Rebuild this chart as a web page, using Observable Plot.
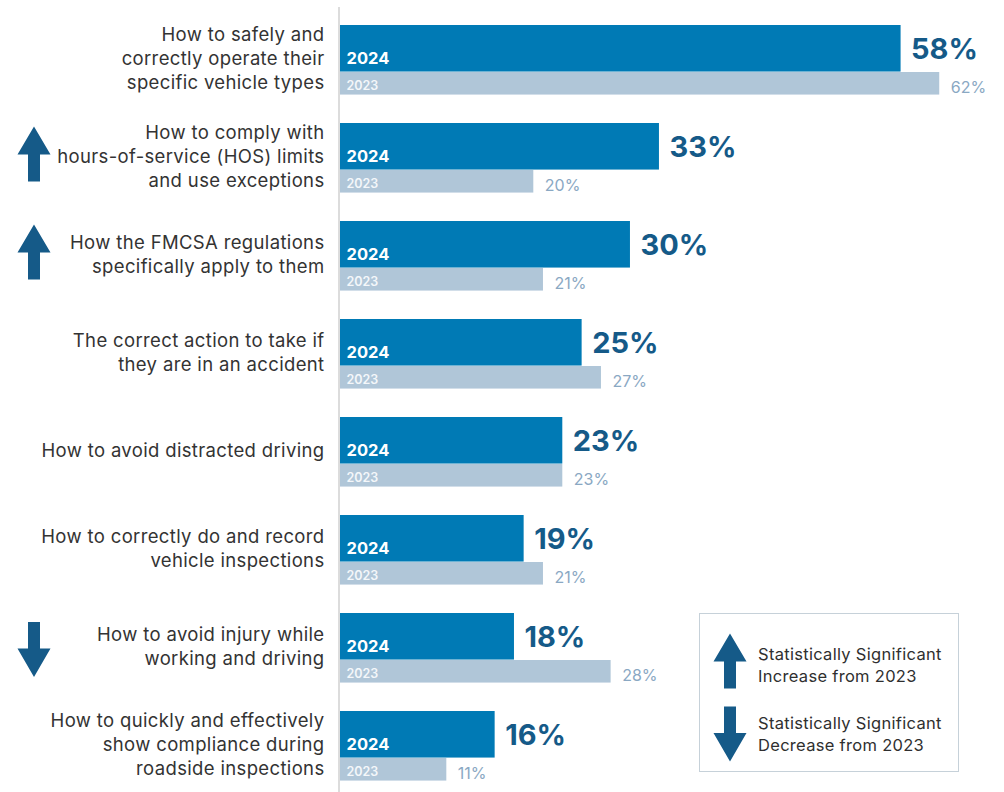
<!DOCTYPE html>
<html>
<head>
<meta charset="utf-8">
<script src="https://cdn.jsdelivr.net/npm/d3@7"></script>
<script src="https://cdn.jsdelivr.net/npm/@observablehq/plot@0.6"></script>
<style>
  html, body { margin: 0; padding: 0; background: #fff; }
  #wrap { position: relative; width: 1004px; height: 792px; font-family: Inter, "Noto Sans", sans-serif; }
  #legend { position: absolute; left: 699px; top: 613px; width: 258px; height: 157px; border: 1.5px solid #c6d1d9; background: #fff; }
  .lg-row { position: absolute; left: 0; width: 258px; }
  .lg-row svg { position: absolute; left: 13px; }
  .lg-row div { position: absolute; left: 58px; font-size: 16.5px; letter-spacing: 0.3px; line-height: 22px; color: #2f2f2f; white-space: nowrap; }
</style>
</head>
<body>
<div id="wrap"></div>
<script>
const categories = [
  "How to safely and\ncorrectly operate their\nspecific vehicle types",
  "How to comply with\nhours-of-service (HOS) limits\nand use exceptions",
  "How the FMCSA regulations\nspecifically apply to them",
  "The correct action to take if\nthey are in an accident",
  "How to avoid distracted driving",
  "How to correctly do and record\nvehicle inspections",
  "How to avoid injury while\nworking and driving",
  "How to quickly and effectively\nshow compliance during\nroadside inspections"
];
const values2024 = [58, 33, 30, 25, 23, 19, 18, 16];
const values2023 = [62, 20, 21, 27, 23, 21, 28, 11];
const significance = [null, "up", "up", null, null, null, "down", null];

const data = categories.map((c, i) => ({
  category: c, v2024: values2024[i], v2023: values2023[i], sig: significance[i]
}));

const upArrow = {
  draw(ctx) {
    ctx.moveTo(0, -27.5); ctx.lineTo(16.5, 0.5); ctx.lineTo(6, 0.5); ctx.lineTo(6, 27.5);
    ctx.lineTo(-6, 27.5); ctx.lineTo(-6, 0.5); ctx.lineTo(-16.5, 0.5); ctx.closePath();
  }
};
const downArrow = {
  draw(ctx) {
    ctx.moveTo(0, 27.5); ctx.lineTo(16.5, -1); ctx.lineTo(6, -1); ctx.lineTo(6, -27.5);
    ctx.lineTo(-6, -27.5); ctx.lineTo(-6, -1); ctx.lineTo(-16.5, -1); ctx.closePath();
  }
};

const C2024 = "#007ab5", C2023 = "#b0c6d8", CDARK = "#155a88", CLIGHT = "#8aa8c3";
const step = 98.43;

const chart = Plot.plot({
  width: 1004,
  height: 792,
  marginLeft: 340,
  marginRight: 0,
  marginTop: 3,
  marginBottom: 792 - 3 - step * 8,
  style: { fontFamily: "Inter, 'Noto Sans', sans-serif", background: "#fff", overflow: "visible" },
  x: { domain: [0, 68.7], axis: null },
  y: { domain: categories, padding: 0, axis: null },
  marks: [
    Plot.ruleX([0], { stroke: "#dcdcdc", strokeWidth: 2, dx: -1.5, insetTop: 4, insetBottom: -10 }),
    Plot.barX(data, { y: "category", x: "v2024", fill: C2024, insetTop: 20, insetBottom: step - 20 - 47 }),
    Plot.barX(data, { y: "category", x: "v2023", fill: C2023, insetTop: 67, insetBottom: step - 67 - 23 }),
    Plot.text(data, { y: "category", x: 0, text: () => "2024", textAnchor: "start", dx: 6, dy: 4.5, fill: "#fff", fontSize: 16.5, fontWeight: 700 }),
    Plot.text(data, { y: "category", x: 0, text: () => "2023", textAnchor: "start", dx: 6, dy: 31, fill: "#f4f7fa", fontSize: 12.5, fontWeight: 600 }),
    Plot.text(data, { y: "category", x: "v2024", text: d => d.v2024 + "%", textAnchor: "start", dx: 10, dy: -5, fill: CDARK, fontSize: 29, fontWeight: 700 }),
    Plot.text(data, { y: "category", x: "v2023", text: d => d.v2023 + "%", textAnchor: "start", dx: 11, dy: 33, fill: CLIGHT, fontSize: 16 }),
    Plot.text(data, { y: "category", text: "category", frameAnchor: "left", textAnchor: "end", dx: -16, dy: 2.5, lineHeight: 1.3, fill: "#333", fontSize: 18.5, style: "letter-spacing:0.35px" }),
    Plot.dot(data.filter(d => d.sig === "up"), { y: "category", frameAnchor: "left", dx: -306.5, dy: 1.5, symbol: upArrow, fill: CDARK, stroke: null, r: 10 }),
    Plot.dot(data.filter(d => d.sig === "down"), { y: "category", frameAnchor: "left", dx: -306.5, dy: 7, symbol: downArrow, fill: CDARK, stroke: null, r: 10 })
  ]
});

chart.querySelectorAll("g[aria-label='text']").forEach(g => {});
const wrap = document.getElementById("wrap");
wrap.appendChild(chart);

// letter spacing on category labels (last text mark)
const textGroups = chart.querySelectorAll("g[aria-label='text']");
const labelGroup = textGroups[textGroups.length - 1];
if (labelGroup) labelGroup.setAttribute("letter-spacing", "0.35");

const legend = document.createElement("div");
legend.id = "legend";
legend.innerHTML = `
  <div class="lg-row" style="top:18px">
    <svg width="34" height="58" viewBox="-17 -29 34 58"><path d="M0,-27.5L16.5,0.5L6,0.5L6,27.5L-6,27.5L-6,0.5L-16.5,0.5Z" fill="${CDARK}"/></svg>
    <div style="top:11px">Statistically Significant<br>Increase from 2023</div>
  </div>
  <div class="lg-row" style="top:91px">
    <svg width="34" height="58" viewBox="-17 -29 34 58"><path d="M0,27.5L16.5,-1L6,-1L6,-27.5L-6,-27.5L-6,-1L-16.5,-1Z" fill="${CDARK}"/></svg>
    <div style="top:7px">Statistically Significant<br>Decrease from 2023</div>
  </div>`;
wrap.appendChild(legend);
</script>
</body>
</html>
